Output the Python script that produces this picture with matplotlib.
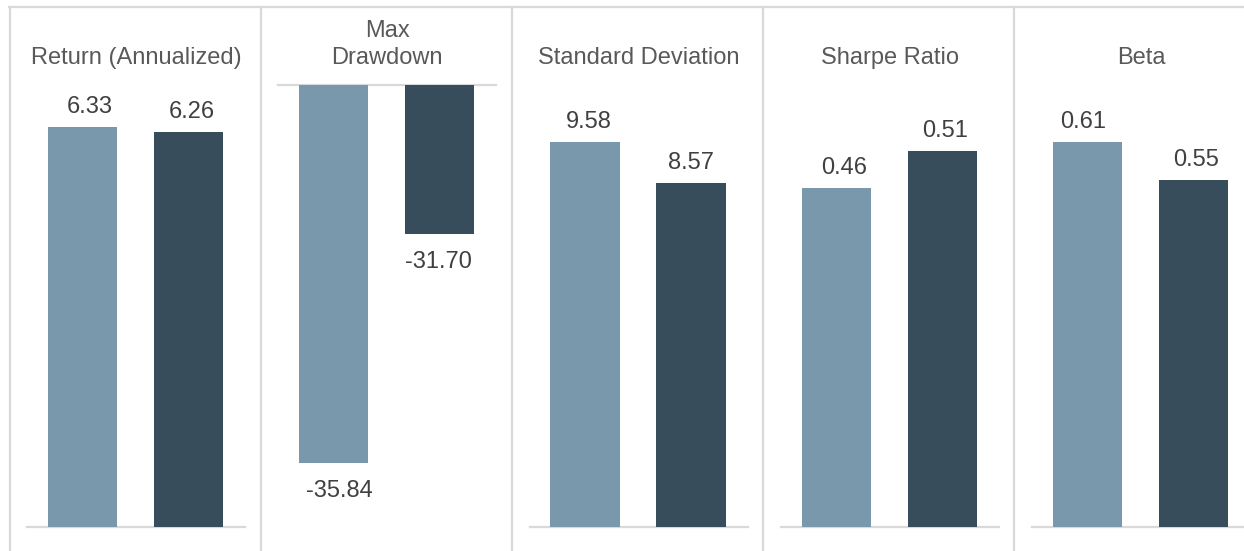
import matplotlib
matplotlib.use("Agg")
import matplotlib.pyplot as plt
from matplotlib.lines import Line2D

plt.rcParams['font.family'] = ['Liberation Sans', 'DejaVu Sans']

# ---- data ----
titles = ["Return (Annualized)", "Max\nDrawdown", "Standard Deviation", "Sharpe Ratio", "Beta"]
series_a = [6.33, -35.84, 9.58, 0.46, 0.61]
series_b = [6.26, -31.70, 8.57, 0.51, 0.55]
labels_a = ["6.33", "-35.84", "9.58", "0.46", "0.61"]
labels_b = ["6.26", "-31.70", "8.57", "0.51", "0.55"]
y_limits = [(0, 7), (-37, -29), (0, 11), (0, 0.6), (0, 0.7)]

# ---- style ----
W, H = 1244, 551
color_a = "#7A98AB"
color_b = "#384D5B"
grid_c = "#D9D9D9"
title_c = "#595959"
value_c = "#404040"
fs = 17
label_dx = [(7, 3), (5.5, -1), (3.5, -0.5), (7.5, 2.5), (-4.5, 2.5)]

fig = plt.figure(figsize=(W / 100, H / 100), dpi=100)
fig.patch.set_facecolor("white")

ax_top_px, ax_bot_px = 85, 527
ax_w_px = 218
for i in range(5):
    left_px = 27 + i * 251.25
    ax = fig.add_axes([left_px / W, (H - ax_bot_px) / H, ax_w_px / W, (ax_bot_px - ax_top_px) / H])
    ax.set_axis_off()
    lo, hi = y_limits[i]
    ax.set_ylim(lo, hi)
    ax.set_xlim(-0.5236, -0.5236 + ax_w_px / 106)
    neg = series_a[i] < 0
    base = hi if neg else 0
    vals = [series_a[i], series_b[i]]
    labs = [labels_a[i], labels_b[i]]
    cols = [color_a, color_b]
    ax.axhline(base, color=grid_c, lw=1.6, zorder=1, clip_on=False)
    for j in range(2):
        ax.bar(j, vals[j] - base, bottom=base, width=0.651, color=cols[j], zorder=2)
        dy = -34 if neg else 14
        ax.annotate(labs[j], (j, vals[j]), xytext=(label_dx[i][j], dy), textcoords="offset pixels",
                    ha="center", va="baseline", fontsize=fs, color=value_c)
    # title lines (bottom line baseline at y=64 px)
    cx = (left_px + ax_w_px / 2) / W
    lines = titles[i].split("\n")[::-1]
    for k, ln in enumerate(lines):
        fig.text(cx, (H - 64 + k * 27) / H, ln, ha="center", va="baseline", fontsize=fs, color=title_c)

# separators and top rule
for i in range(5):
    x = (10 + i * 251) / W
    fig.add_artist(Line2D([x, x], [0, (H - 6.5) / H], color=grid_c, lw=1.6, transform=fig.transFigure))
fig.add_artist(Line2D([9 / W, 1], [(H - 6.5) / H, (H - 6.5) / H], color=grid_c, lw=1.6, transform=fig.transFigure))

fig.savefig("out.png", dpi=100, facecolor="white")
